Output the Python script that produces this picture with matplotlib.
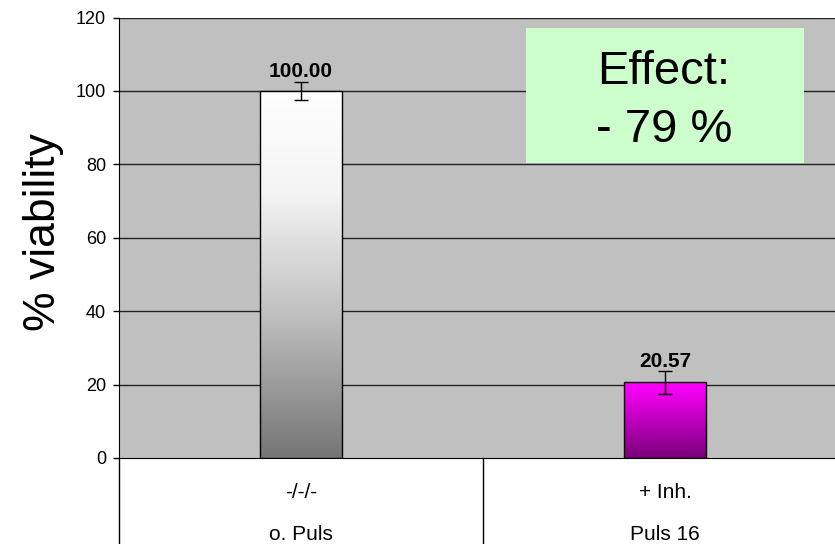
import numpy as np
import matplotlib
matplotlib.use("Agg")
import matplotlib.pyplot as plt
from matplotlib.colors import LinearSegmentedColormap

plt.rcParams['font.family'] = ['Liberation Sans', 'DejaVu Sans']

# data
treatments = ["-/-/-", "+ Inh."]
groups = ["o. Puls", "Puls 16"]
viability = [100.00, 20.57]
errors = [2.5, 3.0]
effect_lines = ["Effect:", "- 79 %"]
yticks = [0, 20, 40, 60, 80, 100, 120]

W, H = 835, 544
fig = plt.figure(figsize=(W / 100, H / 100), dpi=100)
fig.patch.set_facecolor("white")

left_px, right_px = 119, 847
bottom_px, top_px = 458, 17.5
ax = fig.add_axes([left_px / W, (H - bottom_px) / H,
                   (right_px - left_px) / W, (bottom_px - top_px) / H])
ax.set_facecolor("#C0C0C0")

# horizontal grid
for v in yticks[1:]:
    ax.axhline(v, color="#222222", lw=1.0, zorder=1)

x = np.arange(len(viability))
bar_w = 0.223
# vertical fills, listed bottom -> top
gradients = [
    [(0.0, "#757575"), (0.4, "#C2C2C2"), (0.72, "#F4F4F4"), (1.0, "#FFFFFF")],
    [(0.0, "#780078"), (0.5, "#C000C0"), (1.0, "#FF00FF")],
]

bars = ax.bar(x, viability, width=bar_w, facecolor="none", edgecolor="black",
              lw=1.0, zorder=4)
for b, stops in zip(bars, gradients):
    cmap = LinearSegmentedColormap.from_list("fill", stops)
    grad = np.linspace(0, 1, 256).reshape(-1, 1)
    x0, y0 = b.get_x(), b.get_y()
    im = ax.imshow(grad, cmap=cmap, aspect="auto", origin="lower",
                   extent=[x0, x0 + b.get_width(), y0, y0 + b.get_height()],
                   zorder=3, interpolation="bilinear")
    im.set_clip_path(b)
ax.set_xlim(-0.5, 1.5)
ax.set_ylim(0, 120)

ax.errorbar(x, viability, yerr=errors, fmt="none", ecolor="black",
            elinewidth=1.0, capsize=5, capthick=1.0, zorder=5)

for xi, v, e in zip(x, viability, errors):
    ax.annotate(f"{v:.2f}", (xi, v + e), xytext=(0, 3.5), textcoords="offset points",
                ha="center", va="baseline", fontsize=15, fontweight="bold", zorder=6)

# spines and ticks
for s in ["top", "right"]:
    ax.spines[s].set_visible(False)
ax.spines["left"].set_color("black")
ax.spines["bottom"].set_color("black")
ax.set_yticks(yticks)
ax.set_yticklabels([str(t) for t in yticks], fontsize=13)
ax.tick_params(axis="y", direction="out", length=4.3, width=1, pad=5)
ax.set_xticks([])

# axis title
fig.text(55 / W, 1 - 232 / H, "% viability", rotation=90, rotation_mode="anchor",
         ha="center", va="baseline", fontsize=32)

# two-level category axis
xt = ax.get_xaxis_transform()
span = bottom_px - top_px
for xi, t, g in zip(x, treatments, groups):
    ax.text(xi, -(492 - bottom_px) / span, t, transform=xt, ha="center",
            va="center", fontsize=15)
    ax.text(xi, -(534 - bottom_px) / span, g, transform=xt, ha="center",
            va="center", fontsize=15)
for xb in [-0.5, 0.5, 1.5]:
    ax.plot([xb, xb], [0, -0.25], transform=xt, color="black", lw=1.0, clip_on=False)

# effect box
bx0, bx1, by0, by1 = 526, 804, 28, 163
fig.patches.append(plt.Rectangle((bx0 / W, 1 - by1 / H), (bx1 - bx0) / W, (by1 - by0) / H,
                                 transform=fig.transFigure, facecolor="#CCFFCC",
                                 edgecolor="none", zorder=10))
for line, base in zip(effect_lines, [84, 142]):
    fig.text(664 / W, 1 - base / H, line, ha="center", va="baseline",
             fontsize=34, zorder=11)

fig.savefig("out.png", dpi=100)
